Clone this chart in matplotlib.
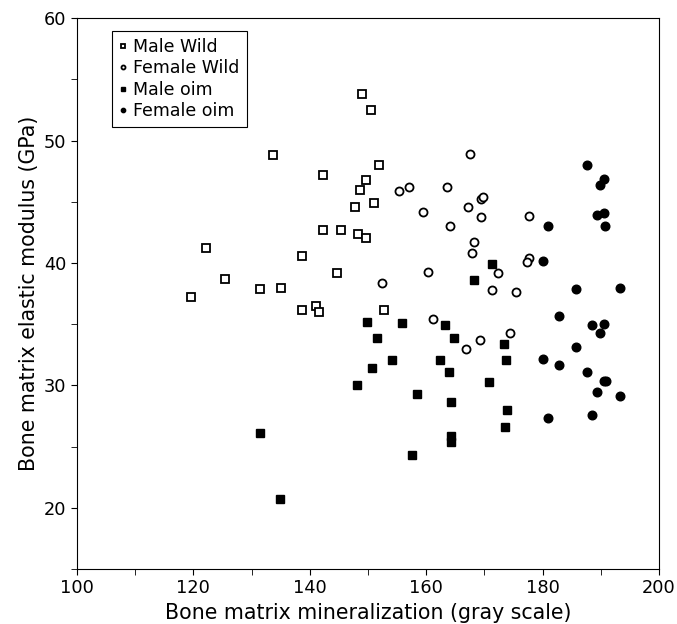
import matplotlib
matplotlib.use("Agg")
import matplotlib.pyplot as plt
from matplotlib.ticker import MultipleLocator

# values
male_wild_x = [149.0, 150.5, 133.7, 151.9, 142.3, 149.6, 148.6, 147.7, 151.0, 142.3,
               145.4, 148.3, 149.6, 122.2, 138.7, 144.7, 125.5, 119.6, 131.4, 135.0,
               138.7, 141.0, 141.6, 152.8]
male_wild_y = [53.8, 52.5, 48.8, 48.0, 47.2, 46.8, 46.0, 44.6, 44.9, 42.7,
               42.7, 42.4, 42.05, 41.2, 40.6, 39.2, 38.7, 37.25, 37.9, 37.94,
               36.2, 36.5, 36.0, 36.2]

female_wild_x = [167.6, 155.4, 157.1, 163.5, 169.4, 169.8, 159.5, 167.2, 169.5, 177.6,
                 164.1, 168.2, 167.9, 177.6, 177.4, 172.3, 160.3, 152.4, 171.3, 175.5,
                 161.1, 174.4, 169.2, 166.8]
female_wild_y = [48.9, 45.9, 46.2, 46.2, 45.2, 45.4, 44.2, 44.6, 43.8, 43.85,
                 43.0, 41.7, 40.85, 40.4, 40.07, 39.2, 39.25, 38.35, 37.8, 37.6,
                 35.4, 34.25, 33.7, 33.0]

male_oim_x = [131.4, 134.9, 148.1, 149.8, 150.7, 151.5, 154.1, 155.8, 157.6, 158.4,
              162.4, 163.2, 164.0, 164.2, 164.3, 164.3, 164.7, 168.3, 170.8, 171.3,
              173.4, 173.7, 173.8, 173.6]
male_oim_y = [26.1, 20.7, 30.0, 35.2, 31.45, 33.9, 32.1, 35.1, 24.3, 29.3,
              32.06, 34.9, 31.1, 28.65, 25.9, 25.4, 33.9, 38.6, 30.3, 39.95,
              33.4, 32.1, 28.0, 26.6]

female_oim_x = [187.6, 190.6, 189.9, 189.3, 190.6, 190.8, 180.9, 180.0, 185.8, 193.3,
                182.9, 188.5, 190.6, 189.9, 185.8, 180.0, 182.9, 187.6, 190.6, 190.9,
                189.3, 193.3, 180.9, 188.5]
female_oim_y = [48.0, 46.9, 46.4, 43.9, 44.1, 43.05, 43.0, 40.15, 37.9, 38.0,
                35.7, 34.97, 35.0, 34.3, 33.15, 32.15, 31.7, 31.1, 30.35, 30.35,
                29.45, 29.1, 27.3, 27.6]

fig = plt.figure(figsize=(6.77, 6.24), dpi=100)
ax = fig.add_axes([0.1137, 0.0881, 0.8597, 0.8826])

ax.plot(male_wild_x, male_wild_y, 's', ms=5.5, mfc='white', mec='black', mew=1.3,
        label='Male Wild')
ax.plot(female_wild_x, female_wild_y, 'o', ms=5.8, mfc='white', mec='black', mew=1.3,
        label='Female Wild')
ax.plot(male_oim_x, male_oim_y, 's', ms=6, mfc='black', mec='black',
        label='Male oim')
ax.plot(female_oim_x, female_oim_y, 'o', ms=6.2, mfc='black', mec='black',
        label='Female oim')

ax.set_xlim(100, 200)
ax.set_ylim(15, 60)
ax.xaxis.set_major_locator(MultipleLocator(20))
ax.xaxis.set_minor_locator(MultipleLocator(10))
ax.yaxis.set_major_locator(MultipleLocator(10))
ax.yaxis.set_minor_locator(MultipleLocator(5))
ax.tick_params(which='both', direction='out', top=False, right=False,
               labelsize=12.8, length=4)

ax.set_xlabel('Bone matrix mineralization (gray scale)', fontsize=14.8)
ax.set_ylabel('Bone matrix elastic modulus (GPa)', fontsize=14.8)

leg = ax.legend(loc='upper left', bbox_to_anchor=(0.046, 0.993), fontsize=12.5,
                markerscale=0.5, handlelength=0.4, handletextpad=0.4,
                borderpad=0.4, labelspacing=0.2, fancybox=False,
                edgecolor='black', framealpha=1)
leg.get_frame().set_linewidth(0.8)

fig.savefig('out.png', dpi=100)
